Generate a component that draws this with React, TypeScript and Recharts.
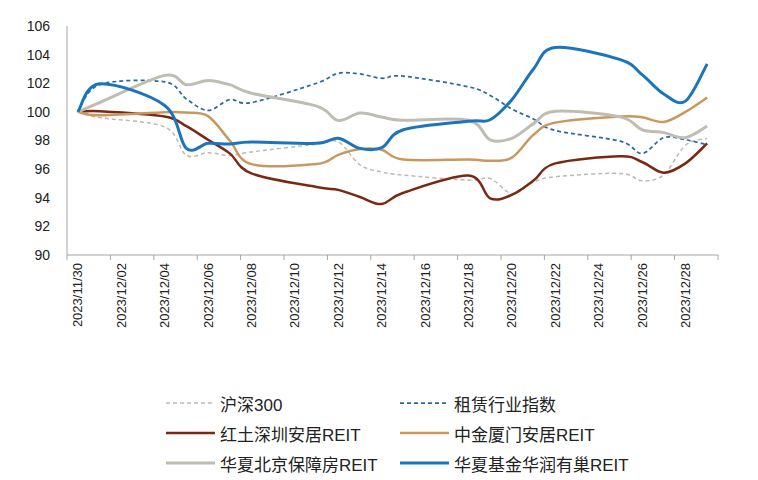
import React from 'react';
import { LineChart, Line, XAxis, YAxis } from 'recharts';

// trading days shown on the chart
const tradeDates = [
  '2023/11/30', '2023/12/01', '2023/12/04', '2023/12/05', '2023/12/06', '2023/12/07', '2023/12/08',
  '2023/12/11', '2023/12/12', '2023/12/13', '2023/12/14', '2023/12/15',
  '2023/12/18', '2023/12/19', '2023/12/20', '2023/12/21', '2023/12/22',
  '2023/12/25', '2023/12/26', '2023/12/27', '2023/12/28', '2023/12/29',
];

const tickLabels = [
  '2023/11/30', '2023/12/02', '2023/12/04', '2023/12/06', '2023/12/08', '2023/12/10', '2023/12/12',
  '2023/12/14', '2023/12/16', '2023/12/18', '2023/12/20', '2023/12/22', '2023/12/24', '2023/12/26', '2023/12/28',
];

const yTicks = [90, 92, 94, 96, 98, 100, 102, 104, 106];

const hs300 = [100, 99.6, 98.95, 96.97, 97.15, 96.95, 97.2, 97.74, 97.9, 96.3, 95.8, 95.58, 95.23, 95.35, 94.3, 95.1, 95.47, 95.7, 95.19, 95.6, 97.67, 98.14];
const rental = [100, 101.9, 102.1, 100.9, 100.1, 100.85, 100.65, 102.0, 102.7, 102.65, 102.35, 102.5, 101.75, 101.15, 100.2, 99.5, 98.7, 97.95, 97.1, 98.2, 98.05, 97.7];
const hongtu = [100, 100.05, 99.68, 99.0, 98.05, 97.1, 95.7, 94.75, 94.55, 94.05, 93.56, 94.35, 95.55, 93.96, 94.2, 95.2, 96.4, 96.9, 96.5, 95.75, 96.4, 97.8];
const zhongjin = [100, 99.76, 99.98, 99.95, 99.7, 98.0, 96.35, 96.35, 97.0, 97.4, 97.35, 96.67, 96.67, 96.58, 96.8, 98.4, 99.25, 99.68, 99.62, 99.3, 100.0, 101.0];
const beijing = [100, 100.65, 102.55, 101.9, 102.2, 101.9, 101.3, 100.4, 99.4, 99.92, 99.64, 99.41, 99.41, 98.05, 98.15, 99.18, 100.05, 99.65, 98.75, 98.55, 98.2, 99.0];
const youchao = [100, 101.96, 100.45, 97.45, 97.8, 97.75, 97.9, 97.8, 98.15, 97.45, 97.5, 98.75, 99.35, 99.45, 100.85, 103.0, 104.5, 103.65, 102.6, 101.25, 100.75, 103.35];

const series = [
  { key: 'hs300', name: '沪深300', values: hs300, color: '#BFB8AE', width: 1.5, dash: '4 3' },
  { key: 'rental', name: '租赁行业指数', values: rental, color: '#2A6AA3', width: 1.75, dash: '4 3' },
  { key: 'hongtu', name: '红土深圳安居REIT', values: hongtu, color: '#7A2812', width: 2.5 },
  { key: 'zhongjin', name: '中金厦门安居REIT', values: zhongjin, color: '#C99860', width: 2.5 },
  { key: 'beijing', name: '华夏北京保障房REIT', values: beijing, color: '#BFBCB2', width: 3 },
  { key: 'youchao', name: '华夏基金华润有巢REIT', values: youchao, color: '#1C75BC', width: 3 },
];

const FONT = '"Liberation Sans", Arial, "Noto Sans CJK SC", sans-serif';
const AXIS = '#A6A6A6';

const W = 758;
const H = 480;
const LEFT = 67;
const RIGHT = 40;
const TOP = 26;
const BOTTOM = 225;
const DAYS = 30;
const dayW = (W - LEFT - RIGHT) / DAYS;

const dayOf = (s: string) => Math.round((Date.parse(s) - Date.parse(tradeDates[0])) / 86400000);

const data = tradeDates.map((d, i) => {
  const row: any = { day: dayOf(d) };
  series.forEach((s) => { row[s.key] = s.values[i]; });
  return row;
});

const tickDays = tickLabels.map(dayOf);

// spreadsheet-style smoothed line (cardinal bezier through every point)
const smoothCurve = (context: any) => {
  let pts: number[][] = [];
  return {
    areaStart() {},
    areaEnd() {},
    lineStart() { pts = []; },
    point(x: number, y: number) { pts.push([+x, +y]); },
    lineEnd() {
      if (!pts.length) return;
      context.moveTo(pts[0][0], pts[0][1]);
      for (let i = 0; i < pts.length - 1; i++) {
        const p0 = pts[Math.max(i - 1, 0)];
        const p1 = pts[i];
        const p2 = pts[i + 1];
        const p3 = pts[Math.min(i + 2, pts.length - 1)];
        context.bezierCurveTo(
          p1[0] + (p2[0] - p0[0]) / 6, p1[1] + (p2[1] - p0[1]) / 6,
          p2[0] - (p3[0] - p1[0]) / 6, p2[1] - (p3[1] - p1[1]) / 6,
          p2[0], p2[1],
        );
      }
    },
  };
};

const DateTick = (props: any) => {
  const { x, y, payload, index } = props;
  const label = tickLabels[tickDays.indexOf(payload.value)];
  const tx = x - dayW / 2;
  return (
    <g>
      <line x1={tx} x2={tx} y1={y} y2={y + 5} stroke={AXIS} />
      {index === tickDays.length - 1 && (
        <line x1={tx + 2 * dayW} x2={tx + 2 * dayW} y1={y} y2={y + 5} stroke={AXIS} />
      )}
      <text
        transform={`translate(${x},${y + 8}) rotate(-90)`}
        textAnchor="end"
        dominantBaseline="central"
        fontSize={13}
        fontFamily={FONT}
        fill="#222"
      >
        {label}
      </text>
    </g>
  );
};

const LegendBlock = () => (
  <div style={{ position: 'absolute', left: 0, top: 0, width: W, height: H, pointerEvents: 'none' }}>
    {series.map((s, i) => {
      const col = i % 2;
      const row = Math.floor(i / 2);
      const left = col === 0 ? 166 : 400;
      const top = 403 + row * 30;
      return (
        <div key={s.key} style={{ position: 'absolute', left, top: top - 12, height: 24, display: 'flex', alignItems: 'center' }}>
          <svg width={49} height={24}>
            <line x1={0} x2={49} y1={12} y2={12} stroke={s.color} strokeWidth={s.width} strokeDasharray={s.dash} />
          </svg>
          <span style={{ marginLeft: 5, fontSize: 17, fontFamily: FONT, color: '#222', whiteSpace: 'nowrap' }}>{s.name}</span>
        </div>
      );
    })}
  </div>
);

export default function App() {
  return (
    <div style={{ position: 'absolute', left: 0, top: 0, width: W, height: H, background: '#fff' }}>
      <LineChart width={W} height={H} data={data} margin={{ top: TOP, right: RIGHT, bottom: 0, left: 0 }}>
        <XAxis
          dataKey="day"
          type="number"
          domain={[-0.5, DAYS - 0.5]}
          ticks={tickDays}
          interval={0}
          height={BOTTOM}
          stroke={AXIS}
          tickLine={false}
          tickSize={0}
          tickMargin={0}
          tick={<DateTick />}
          allowDataOverflow
        />
        <YAxis
          type="number"
          domain={[90, 106]}
          ticks={yTicks}
          interval={0}
          width={LEFT}
          stroke={AXIS}
          tickLine={false}
          tickSize={6}
          tickMargin={11}
          tick={{ fontSize: 14, fontFamily: FONT, fill: '#222' }}
        />
        {series.map((s) => (
          <Line
            key={s.key}
            dataKey={s.key}
            name={s.name}
            type={smoothCurve as any}
            stroke={s.color}
            strokeWidth={s.width}
            strokeDasharray={s.dash}
            dot={false}
            activeDot={false}
            isAnimationActive={false}
          />
        ))}
      </LineChart>
      <LegendBlock />
    </div>
  );
}
